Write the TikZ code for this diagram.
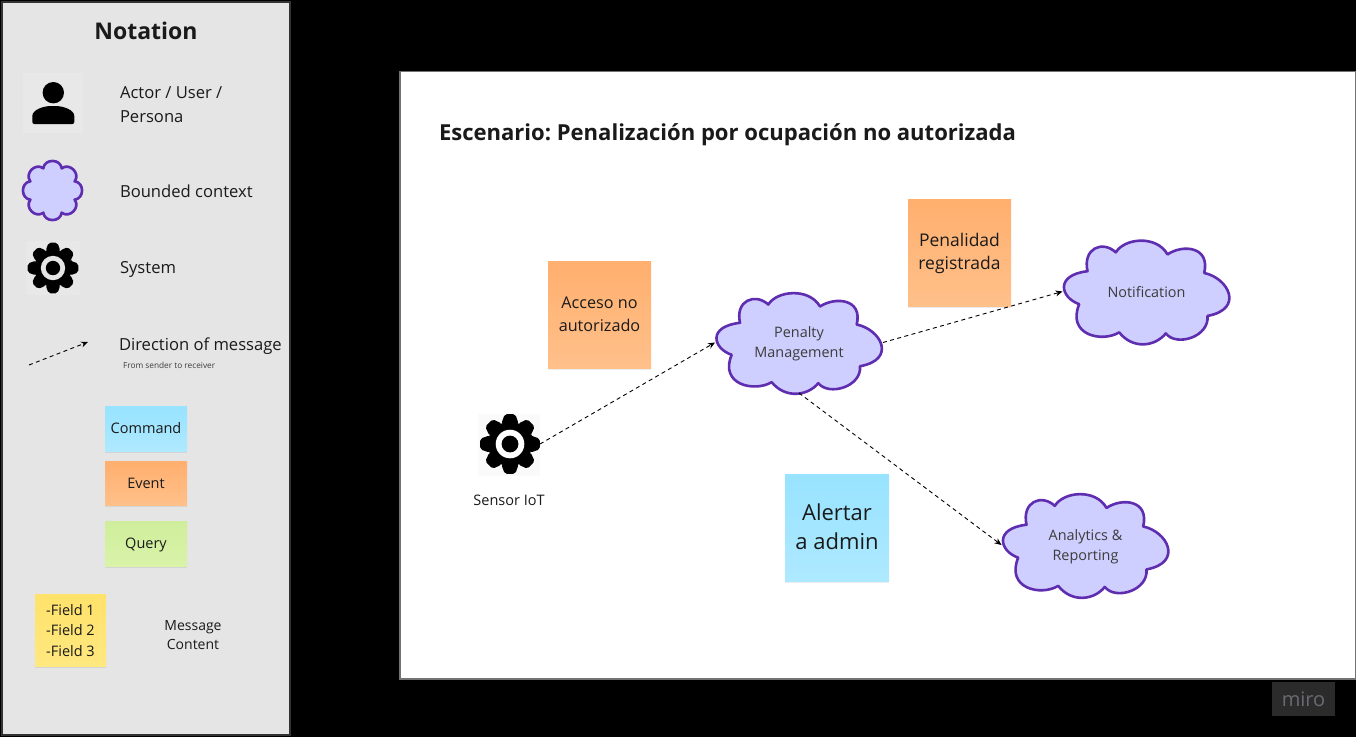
\documentclass[tikz,border=0pt]{standalone}
\usepackage{fontspec}
\setmainfont{Open Sans}
\usetikzlibrary{shadows,arrows.meta}
\definecolor{inkc}{HTML}{1A1A1A}
\definecolor{cloudfill}{HTML}{CECEFF}
\definecolor{cloudline}{HTML}{5F2DB0}
\definecolor{mirotext}{HTML}{6A6A72}
\newcommand{\fs}[2]{\fontsize{#1}{#2}\selectfont}
\newcommand{\cloudpath}{(-59,-19.7) .. controls (-64,-42) and (-44,-50) .. (-30.7,-38)
 .. controls (-22,-52) and (10,-55) .. (21,-36)
 .. controls (36,-46) and (64,-44) .. (57.7,-18)
 .. controls (82,-13) and (98,17) .. (61,23.7)
 .. controls (63,44) and (30,54) .. (19.3,40.7)
 .. controls (8,54) and (-14,56) .. (-27.3,39.7)
 .. controls (-45,50) and (-80,42) .. (-67.3,12.3)
 .. controls (-86,6) and (-92,-16) .. (-59,-19.7) -- cycle}
\newcommand{\gearshape}[3]{% cx cy R
 \begin{scope}[shift={(#1,#2)},scale=#3/30]
  \fill[black,rounded corners=2pt]
   (-23:22.5) \foreach \a in {0,45,...,315}{ -- (\a-23:22.5) -- (\a-10:30.8) -- (\a+10:30.8) -- (\a+23:22.5)} -- cycle;
 \end{scope}}
\tikzset{
 x=1pt,y=-1pt,
 cloudstyle/.style={fill=cloudfill,draw=cloudline,line width=2.6pt,line join=round},
 cloudbox/.style={minimum width=168pt,minimum height=101pt,inner sep=0pt,outer sep=0pt},
 cloudtext/.style={inner sep=0pt,outer sep=0pt,align=center,text=inkc!85!white,font=\fs{14.4}{20}},
 iconbox/.style={inner sep=0pt,outer sep=0pt},
 sticky/.style={inner sep=0pt,outer sep=0pt,align=center,text=inkc,
   drop shadow={shadow xshift=0pt,shadow yshift=-1.5pt,opacity=.07,fill=black}},
 commandn/.style={sticky,top color=B1,bottom color=B2},
 eventn/.style={sticky,top color=O1,bottom color=O2},
 queryn/.style={sticky,top color=G1,bottom color=G2},
 fieldn/.style={sticky,top color=Y1,bottom color=Y2},
 label/.style={inner sep=0pt,outer sep=0pt,text=inkc,align=left,anchor=west},
 msg/.style={draw=black,line width=.9pt,dash pattern=on 4pt off 3.4pt,-{Stealth[length=7pt,width=6pt]}},
}
\definecolor{B1}{HTML}{98E3FF}\definecolor{B2}{HTML}{AEE9FF}
\definecolor{O1}{HTML}{FFAF6E}\definecolor{O2}{HTML}{FFC08A}
\definecolor{G1}{HTML}{CFEE9B}\definecolor{G2}{HTML}{D9F3A9}
\definecolor{Y1}{HTML}{FFE26A}\definecolor{Y2}{HTML}{FFE880}
\begin{document}
\frenchspacing
\begin{tikzpicture}
\useasboundingbox (0,0) rectangle (1356,737);
\fill[black] (0,0) rectangle (1356,737);
% notation panel
\draw[fill=black!10,draw=black!80,line width=2pt] (2,2) rectangle (290,735);
\node[inner sep=0pt,text=inkc,font=\bfseries\fs{23}{28}] (nottitle) at (146,30.5) {Notation};
% actor
\fill[black!9] (23,73) rectangle (83,133);
\fill[black] (53.3,92.7) circle (10.7);
\fill[black,rounded corners=2pt] (32.3,124) -- (32.3,118) .. controls (32.3,110) and (43,106) .. (53.3,106) .. controls (63.5,106) and (74.3,110) .. (74.3,118) -- (74.3,124) -- cycle;
\node[label,font=\fs{16.6}{24}] (actorl) at (120,105) {Actor / User /\\Persona};
% legend cloud
\begin{scope}[shift={(52.5,190.5)}]
\draw[cloudstyle] (-22.5:24)
 .. controls (-14:33) and (14:33) .. (22.5:24)
 .. controls (31:33) and (59:33) .. (67.5:24)
 .. controls (76:33) and (104:33) .. (112.5:24)
 .. controls (121:33) and (149:33) .. (157.5:24)
 .. controls (166:33) and (194:33) .. (202.5:24)
 .. controls (211:33) and (239:33) .. (247.5:24)
 .. controls (256:33) and (284:33) .. (292.5:24)
 .. controls (301:33) and (329:33) .. (337.5:24) -- cycle;
\end{scope}
\node[label,font=\fs{16.6}{24}] (bcl) at (120,191) {Bounded context};
% legend gear
\fill[black!9] (26,241) rectangle (80,295);
\gearshape{53}{268}{25}
\fill[black!10] (53,268) circle (12.2);
\fill[black] (53,268) circle (7.2);
\node[label,font=\fs{16.6}{24}] (sysl) at (120,269) {System};
% direction
\coordinate (dirA) at (29,365);
\coordinate (dirB) at (88,342);
\draw[msg] (dirA) -- (dirB);
\node[label,font=\fs{16.6}{24}] (dirl) at (119,346.5) {Direction of message};
\node[label,font=\fs{8.3}{10},text=inkc!85!white] (dirs) at (123,365) {From sender to receiver};
% stickies
\node[commandn,minimum width=82pt,minimum height=45pt,font=\fs{14.5}{18}] (lc) at (146,428.5) {Command};
\node[eventn,minimum width=82pt,minimum height=44pt,font=\fs{14.5}{18}] (le) at (146,483) {Event};
\node[queryn,minimum width=82pt,minimum height=45pt] (lq) at (146,543.5) {};
\node[inner sep=0pt,text=inkc,font=\fs{14.5}{18}] (lqt) at (146,544.5) {Query};
\node[fieldn,minimum width=71pt,minimum height=72pt,font=\fs{14.5}{20.5}] (lf) at (70.5,630.5) {-Field 1\\-Field 2\\-Field 3};
\node[inner sep=0pt,align=center,text=inkc,font=\fs{14}{19}] (lm) at (193,635) {Message\\Content};
% board
\draw[fill=white,draw=black!55,line width=1.5pt] (400,71.5) rectangle (1355.5,679);
\node[label,font=\bfseries\fs{22.05}{26}] (title) at (439,135) {Escenario: Penalización por ocupación no autorizada};
% stickies on board
\node[eventn,minimum width=103pt,minimum height=107pt,font=\fs{16.2}{23.5}] (acceso) at (599.5,314.5) {Acceso no\\autorizado};
\node[eventn,minimum width=103pt,minimum height=107pt] (penal) at (959.5,252.5) {};
\node[inner sep=0pt,align=center,text=inkc,font=\fs{17.5}{23.5}] (penalt) at (959.5,253.5) {Penalidad\\registrada};
\node[commandn,minimum width=104pt,minimum height=107pt] (alerta) at (837,527.5) {};
\node[inner sep=0pt,align=center,text=inkc,font=\fs{22}{29}] (alertat) at (837,526.5) {Alertar\\a admin};
% clouds
\draw[cloudstyle,shift={(799,342.5)}] \cloudpath;
\draw[cloudstyle,shift={(1146.5,291.5)},yscale=1.03] \cloudpath;
\draw[cloudstyle,shift={(1085.5,545)},yscale=1.03] \cloudpath;
\node[cloudbox] (pm) at (799,342.5) {};
\node[cloudbox] (nt) at (1146.5,291.5) {};
\node[cloudbox] (ar) at (1085.5,545) {};
\node[cloudtext] (pmt) at (799,344) {Penalty\\Management};
\node[cloudtext] (ntt) at (1146.5,292) {Notification};
\node[cloudtext] (art) at (1085.5,547) {Analytics \&\\Reporting};
% sensor
\fill[black!2] (478,414) rectangle (540,476);
\gearshape{510}{444}{29.5}
\fill[white] (510,444) circle (14.3);
\fill[black] (510,444) circle (8.4);
\node[iconbox,minimum width=60pt,minimum height=60pt] (sensor) at (510,444) {};
\node[inner sep=0pt,text=inkc,font=\fs{14.5}{18}] (sensorl) at (509,500) {Sensor IoT};
% connectors
\draw[msg] (sensor.east) -- (pm.west);
\draw[msg] (pm.east) -- (nt.west);
\draw[msg] (pm.south) -- (ar.west);
% miro
\node[fill=black!83,minimum width=63pt,minimum height=34pt,inner sep=0pt,text=mirotext,font=\fs{20}{24}] (miro) at (1303.5,699) {miro};
\end{tikzpicture}
\end{document}
